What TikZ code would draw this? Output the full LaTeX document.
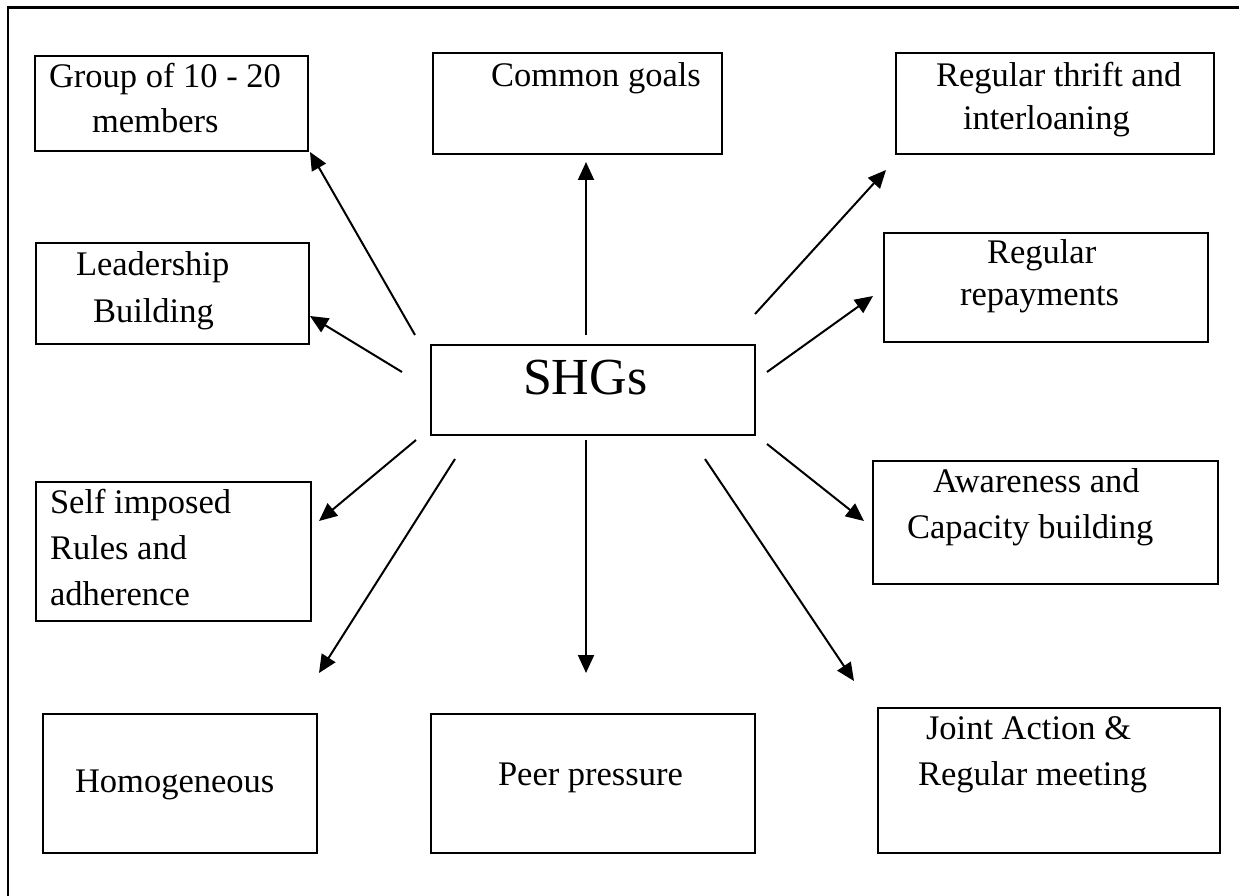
\documentclass[tikz,border=0pt]{standalone}
\usepackage{fontspec}
\setmainfont{Liberation Serif}
\usetikzlibrary{arrows.meta}
\begin{document}
\begin{tikzpicture}[x=1pt,y=-1pt,
  box/.style={draw, line width=2pt, inner sep=0pt, outer sep=0pt},
  txt/.style={anchor=base west, inner sep=0pt, outer sep=0pt, font=\fontsize{34.5}{40}\selectfont},
  bigtxt/.style={anchor=base west, inner sep=0pt, outer sep=0pt, font=\fontsize{52}{60}\selectfont},
  arr/.style={line width=2pt, -{Triangle[length=18pt,width=16pt]}}]
\useasboundingbox (0,0) rectangle (1239,896);
% frame
\draw[line width=2.2pt] (8,896) -- (8,7.5) -- (1239,7.5);
% boxes
\node[box, minimum width=273pt, minimum height=95pt]  (grp)  at (171.5,103.5) {};
\node[box, minimum width=289pt, minimum height=101pt] (com)  at (577.5,103.5) {};
\node[box, minimum width=318pt, minimum height=101pt] (thr)  at (1055,103.5) {};
\node[box, minimum width=273pt, minimum height=101pt] (lead) at (172.5,293.5) {};
\node[box, minimum width=324pt, minimum height=109pt] (rep)  at (1046,287.5) {};
\node[box, minimum width=324pt, minimum height=90pt]  (shg)  at (593,390) {};
\node[box, minimum width=275pt, minimum height=139pt] (self) at (173.5,551.5) {};
\node[box, minimum width=345pt, minimum height=123pt] (awa)  at (1045.5,522.5) {};
\node[box, minimum width=274pt, minimum height=139pt] (homo) at (180,783.5) {};
\node[box, minimum width=324pt, minimum height=139pt] (peer) at (593,783.5) {};
\node[box, minimum width=342pt, minimum height=145pt] (joint) at (1049,780.5) {};
% texts
\node[txt] (t1a) at (49,88) {Group of 10 - 20};
\node[txt] (t1b) at (92,133) {members};
\node[txt] (t2)  at (491,87) {Common goals};
\node[txt] (t3a) at (936,87) {Regular thrift and};
\node[txt] (t3b) at (963,130) {interloaning};
\node[txt] (t4a) at (76,275) {Leadership};
\node[txt] (t4b) at (93,322) {Building};
\node[txt] (t5a) at (987,263) {Regular};
\node[txt] (t5b) at (960,305) {repayments};
\node[bigtxt] (t6) at (523,394) {SHGs};
\node[txt] (t7a) at (50,513) {Self imposed};
\node[txt] (t7b) at (50,559) {Rules and};
\node[txt] (t7c) at (50,605) {adherence};
\node[txt] (t8a) at (933,492) {Awareness and};
\node[txt] (t8b) at (907,538) {Capacity building};
\node[txt] (t9)  at (75,792) {Homogeneous};
\node[txt] (t10) at (498,785) {Peer pressure};
\node[txt] (t11a) at (926,739) {Joint Action \&};
\node[txt] (t11b) at (918,785) {Regular meeting};
% arrow end points
\coordinate (s1) at (415,335); \coordinate (e1) at (310,152);
\coordinate (s2) at (402,372); \coordinate (e2) at (310,316);
\coordinate (s3) at (586,335); \coordinate (e3) at (586,162);
\coordinate (s4) at (755,314); \coordinate (e4) at (886,170);
\coordinate (s5) at (767,372); \coordinate (e5) at (873,296);
\coordinate (s6) at (416,440); \coordinate (e6) at (319,521);
\coordinate (s7) at (455,459); \coordinate (e7) at (319,673);
\coordinate (s8) at (586,440); \coordinate (e8) at (586,673);
\coordinate (s9) at (705,459); \coordinate (e9) at (854,681);
\coordinate (s10) at (767,444); \coordinate (e10) at (864,521);
% arrows
\draw[arr] (s1) -- (e1);
\draw[arr] (s2) -- (e2);
\draw[arr] (s3) -- (e3);
\draw[arr] (s4) -- (e4);
\draw[arr] (s5) -- (e5);
\draw[arr] (s6) -- (e6);
\draw[arr] (s7) -- (e7);
\draw[arr] (s8) -- (e8);
\draw[arr] (s9) -- (e9);
\draw[arr] (s10) -- (e10);
\end{tikzpicture}
\end{document}
